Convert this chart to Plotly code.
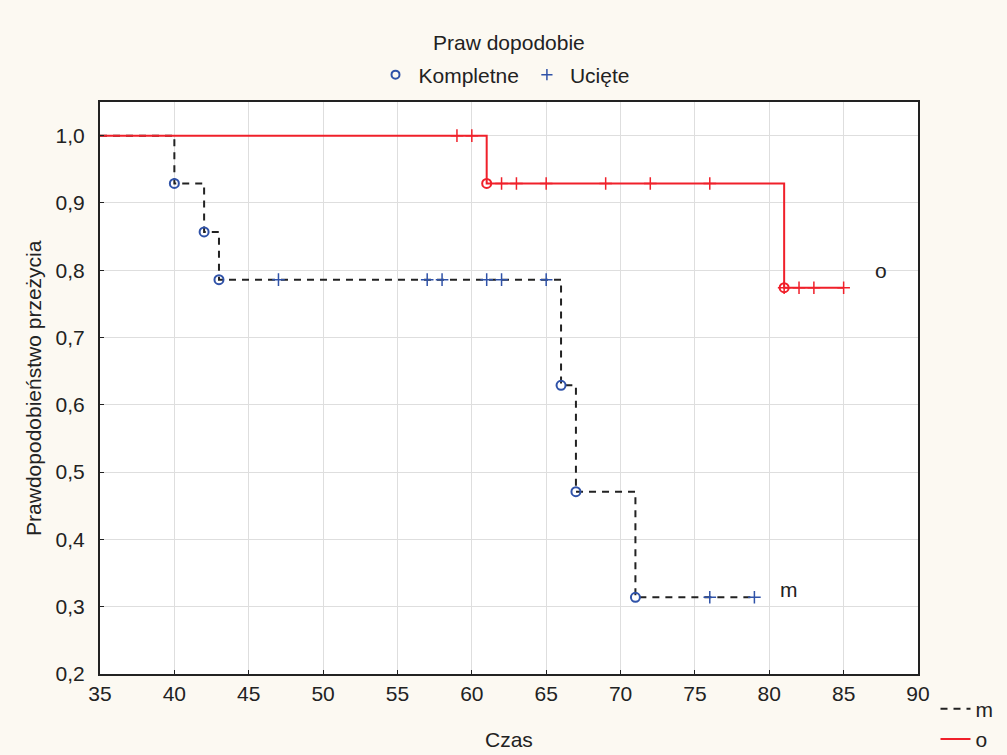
import plotly.graph_objects as go

# ---- data ----
m_step_x = [35, 40, 42, 43, 66, 67, 71, 79]
m_step_y = [1.0, 0.929, 0.857, 0.786, 0.629, 0.471, 0.314, 0.314]
m_event_x = [40, 42, 43, 66, 67, 71]
m_event_y = [0.929, 0.857, 0.786, 0.629, 0.471, 0.314]
m_cens_x = [47, 57, 58, 61, 62, 65, 76, 79]
m_cens_y = [0.786, 0.786, 0.786, 0.786, 0.786, 0.786, 0.314, 0.314]

o_step_x = [35, 61, 81, 85]
o_step_y = [1.0, 0.929, 0.774, 0.774]
o_event_x = [61, 81]
o_event_y = [0.929, 0.774]
o_cens_x = [59, 60, 62, 63, 65, 69, 72, 76, 81, 82, 83, 85]
o_cens_y = [1.0, 1.0, 0.929, 0.929, 0.929, 0.929, 0.929, 0.929, 0.774, 0.774, 0.774, 0.774]

x_ticks = [35, 40, 45, 50, 55, 60, 65, 70, 75, 80, 85, 90]
y_ticks = [0.2, 0.3, 0.4, 0.5, 0.6, 0.7, 0.8, 0.9, 1.0]
y_tick_text = ["0,2", "0,3", "0,4", "0,5", "0,6", "0,7", "0,8", "0,9", "1,0"]

BLUE = "#2F52A8"
RED = "#F0202A"
FONT = "Liberation Sans, Arial, sans-serif"
TXT = "#222222"

fig = go.Figure()

# step lines (legend2)
fig.add_trace(go.Scatter(x=m_step_x, y=m_step_y, mode="lines", line_shape="hv",
                         line=dict(color="#222222", width=2, dash="7px,6px"),
                         name="m", legend="legend2"))
fig.add_trace(go.Scatter(x=o_step_x, y=o_step_y, mode="lines", line_shape="hv",
                         line=dict(color=RED, width=2),
                         name="o", legend="legend2"))

# markers
fig.add_trace(go.Scatter(x=m_event_x, y=m_event_y, mode="markers",
                         marker=dict(symbol="circle-open", size=9, color=BLUE, line=dict(width=2, color=BLUE)),
                         showlegend=False))
fig.add_trace(go.Scatter(x=m_cens_x, y=m_cens_y, mode="markers",
                         marker=dict(symbol="cross-thin", size=9, color=BLUE, line=dict(width=1.5, color=BLUE)),
                         showlegend=False))
fig.add_trace(go.Scatter(x=o_event_x, y=o_event_y, mode="markers",
                         marker=dict(symbol="circle-open", size=9, color=RED, line=dict(width=2, color=RED)),
                         showlegend=False))
fig.add_trace(go.Scatter(x=o_cens_x, y=o_cens_y, mode="markers",
                         marker=dict(symbol="cross-thin", size=9, color=RED, line=dict(width=1.5, color=RED)),
                         showlegend=False))

# legend entries for marker types
fig.add_trace(go.Scatter(x=[None], y=[None], mode="markers", name="Kompletne",
                         marker=dict(symbol="circle-open", size=8, color=BLUE, line=dict(width=2, color=BLUE)),
                         legend="legend"))
fig.add_trace(go.Scatter(x=[None], y=[None], mode="markers", name="Ucięte",
                         marker=dict(symbol="cross-thin", size=8, color=BLUE, line=dict(width=1.5, color=BLUE)),
                         legend="legend"))

fig.add_annotation(x=87.5, y=0.8, text="o", showarrow=False, font=dict(size=21, color=TXT, family=FONT))
fig.add_annotation(x=81.3, y=0.326, text="m", showarrow=False, font=dict(size=21, color=TXT, family=FONT))

# legend title
fig.add_annotation(xref="paper", yref="paper", x=0.5, y=(674 - 42) / 572, xanchor="center", yanchor="middle",
                   text="Praw dopodobie", showarrow=False, font=dict(size=21, color=TXT, family=FONT))

# axis titles
fig.add_annotation(xref="paper", yref="paper", x=-0.082, y=0.5, xanchor="center", yanchor="middle",
                   text="Prawdopodobieństwo przeżycia",
                   textangle=-90, showarrow=False, font=dict(size=21, color=TXT, family=FONT))
fig.add_annotation(xref="paper", yref="paper", x=0.5, y=-0.115, xanchor="center", yanchor="middle",
                   text="Czas", showarrow=False, font=dict(size=21, color=TXT, family=FONT))

fig.update_layout(
    width=1007, height=755,
    paper_bgcolor="#FCF9F2", plot_bgcolor="#FFFFFF",
    margin=dict(l=100, r=89, t=102, b=81, autoexpand=False),
    font=dict(family=FONT, size=21, color=TXT),
    legend=dict(orientation="h", xref="container", yref="container", x=0.5, xanchor="center",
                y=1 - 75 / 755, yanchor="middle", bgcolor="rgba(0,0,0,0)",
                font=dict(size=21, family=FONT, color=TXT), itemwidth=36),
    legend2=dict(orientation="v", xref="container", yref="container", x=0.929, xanchor="left",
                 y=1 - 724 / 755, yanchor="middle", bgcolor="rgba(0,0,0,0)",
                 font=dict(size=21, family=FONT, color=TXT), itemwidth=30, tracegroupgap=0),
    xaxis=dict(range=[35, 90], tickvals=x_ticks, showgrid=True, gridcolor="#DEDEDE", gridwidth=1,
               showline=True, linecolor="#222222", linewidth=2, mirror=True, zeroline=False,
               ticks="inside", ticklen=4, tickcolor="#222222", automargin=False,
               tickfont=dict(size=21, family=FONT, color=TXT)),
    yaxis=dict(range=[0.2, 1.05], tickvals=y_ticks, ticktext=y_tick_text, showgrid=True,
               gridcolor="#DEDEDE", gridwidth=1,
               showline=True, linecolor="#222222", linewidth=2, mirror=True, zeroline=False,
               ticks="inside", ticklen=4, tickcolor="#222222", automargin=False,
               ticklabelstandoff=9,
               tickfont=dict(size=21, family=FONT, color=TXT)),
)

fig.write_html("out.html", config={"displayModeBar": False},
               post_script="document.body.style.margin='0';document.body.style.background='#FCF9F2';")
